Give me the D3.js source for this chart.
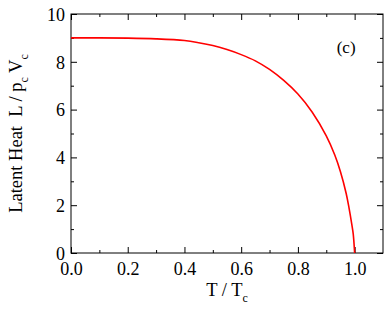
<!DOCTYPE html>
<html>
<head>
<meta charset="utf-8">
<script src="https://cdn.jsdelivr.net/npm/d3@7"></script>
<style>
  html, body { margin: 0; padding: 0; background: #fff; }
  svg text { font-family: "Liberation Serif", "DejaVu Serif", serif; fill: #000; }
</style>
</head>
<body>
<svg id="chart" width="388" height="317"></svg>
<script>
// reduced temperature and latent heat
const tValues = [0, 0.1, 0.2, 0.3, 0.4, 0.45, 0.5, 0.55, 0.6, 0.65, 0.7, 0.75, 0.8, 0.85, 0.9, 0.93, 0.95, 0.97, 0.98, 0.99, 0.995, 1.0];
const heatValues = [9.0, 9.0, 8.99, 8.96, 8.89, 8.8, 8.68, 8.51, 8.3, 8.04, 7.68, 7.22, 6.65, 5.9, 4.9, 4.1, 3.4, 2.5, 1.9, 1.2, 0.8, 0];

const xTicks = [0, 0.2, 0.4, 0.6, 0.8, 1.0];
const xMinor = [0.1, 0.3, 0.5, 0.7, 0.9];
const yTicks = [0, 2, 4, 6, 8, 10];
const yMinor = [1, 3, 5, 7, 9];

const serif = "Liberation Serif, DejaVu Serif, serif";
const margin = { top: 14, right: 5, bottom: 64, left: 71 };
const width = 388, height = 317;
const innerWidth = width - margin.left - margin.right;
const innerHeight = height - margin.top - margin.bottom;

const svg = d3.select("#chart");
const g = svg.append("g").attr("transform", `translate(${margin.left},${margin.top})`);

const x = d3.scaleLinear().domain([0, 1.1]).range([0, innerWidth]);
const y = d3.scaleLinear().domain([0, 10]).range([innerHeight, 0]);

// ticks pointing inward on all four sides
function tickAxis(axisFn, scale, vals, len, transform, labels) {
  const a = g.append("g").attr("transform", transform)
    .call(axisFn(scale).tickValues(vals).tickSizeInner(-len).tickSizeOuter(0)
      .tickPadding(6).tickFormat(labels ? labels : () => ""));
  a.select(".domain").remove();
  a.attr("font-family", serif).attr("font-size", 18);
  a.selectAll(".tick line").attr("stroke", "#000").attr("stroke-width", 1);
  if (!labels) a.selectAll(".tick text").remove();
  return a;
}

const xb = tickAxis(d3.axisBottom, x, xTicks, 6, `translate(0,${innerHeight})`, d3.format(".1f"));
tickAxis(d3.axisBottom, x, xMinor, 3, `translate(0,${innerHeight})`);
tickAxis(d3.axisTop, x, xTicks, 6, "translate(0,0)");
tickAxis(d3.axisTop, x, xMinor, 3, "translate(0,0)");
const yl = tickAxis(d3.axisLeft, y, yTicks, 6, "translate(0,0)", d3.format("d"));
tickAxis(d3.axisLeft, y, yMinor, 3, "translate(0,0)");
tickAxis(d3.axisRight, y, yTicks, 6, `translate(${innerWidth},0)`);
tickAxis(d3.axisRight, y, yMinor, 3, `translate(${innerWidth},0)`);

xb.selectAll("text").attr("y", 22).attr("dy", 0);
yl.selectAll("text").attr("dy", "0.35em").attr("x", -6);

g.append("rect")
  .attr("width", innerWidth).attr("height", innerHeight)
  .attr("fill", "none").attr("stroke", "#000").attr("stroke-width", 1);

const data = tValues.map((t, i) => [t, heatValues[i]]);
g.append("path")
  .datum(data)
  .attr("fill", "none")
  .attr("stroke", "#ff0000")
  .attr("stroke-width", 1.6)
  .attr("d", d3.line().x(d => x(d[0])).y(d => y(d[1])).curve(d3.curveCatmullRom.alpha(0.5)));

g.append("text")
  .attr("x", x(0.97)).attr("y", 39)
  .attr("text-anchor", "middle")
  .style("font-size", "17px")
  .text("(c)");

// x label: T / T_c
const xt = svg.append("text")
  .attr("x", margin.left + innerWidth / 2).attr("y", 296)
  .attr("text-anchor", "middle")
  .style("font-size", "18.5px");
xt.append("tspan").text("T / T");
xt.append("tspan").attr("dy", 6).style("font-size", "12px").text("c");

// y label: Latent Heat  L / p_c V_c
const yt = svg.append("text")
  .attr("transform", `translate(22,${margin.top + innerHeight / 2}) rotate(-90)`)
  .attr("text-anchor", "middle")
  .style("font-size", "18.5px")
  .style("white-space", "pre");
yt.append("tspan").text("Latent Heat  L / p");
yt.append("tspan").attr("dy", 6).style("font-size", "12px").text("c");
yt.append("tspan").attr("dy", -6).text(" V");
yt.append("tspan").attr("dy", 6).style("font-size", "12px").text("c");
</script>
</body>
</html>
